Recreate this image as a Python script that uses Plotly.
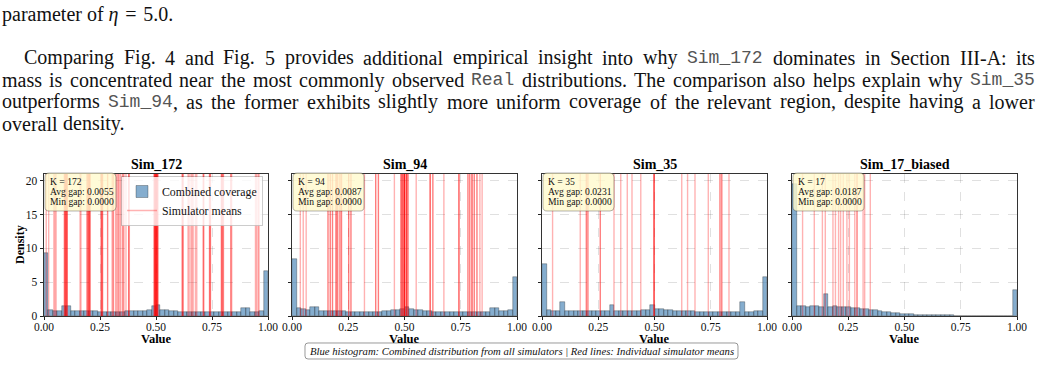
import plotly.graph_objects as go

FIG_W, FIG_H = 1042, 366

# ---------------- data ----------------
PANEL_TITLES = ["Sim_172", "Sim_94", "Sim_35", "Sim_17_biased"]
K_VALUES = [172, 94, 35, 17]
AVG_GAPS = ["0.0055", "0.0087", "0.0231", "0.0187"]
MIN_GAPS = ["0.0000", "0.0000", "0.0000", "0.0000"]

BIN_LO, BIN_HI, N_BINS = 0.0, 1.0, 50

DENSITY_SIM172 = [9.3, 0.85, 0.8, 0.8, 1.45, 1.45, 0.8, 0.8, 0.75, 0.75,
                  0.7, 0.7, 0.65, 0.65, 0.65, 0.65, 0.65, 0.65, 0.7, 0.7,
                  0.7, 0.75, 0.8, 0.85, 1.55, 1.6, 0.9, 0.85, 0.75, 0.7,
                  0.65, 0.6, 0.6, 0.55, 0.55, 0.55, 0.55, 0.55, 0.55, 0.55,
                  0.6, 0.6, 0.6, 0.6, 1.25, 1.25, 0.6, 0.65, 0.8, 6.7]
DENSITY_SIM94 = [8.5, 1.15, 1.0, 0.85, 1.4, 1.35, 0.75, 0.7, 0.7, 0.7,
                 0.7, 0.7, 0.65, 0.65, 0.65, 0.6, 0.6, 0.6, 0.65, 0.65,
                 0.7, 0.75, 0.85, 0.95, 1.1, 1.3, 1.05, 0.95, 0.85, 0.8,
                 0.7, 0.65, 0.6, 0.6, 0.6, 0.6, 0.6, 0.6, 0.6, 0.6,
                 0.6, 0.6, 0.6, 0.6, 1.25, 1.25, 0.8, 0.8, 0.95, 5.7]
DENSITY_SIM35 = [7.7, 0.9, 0.7, 0.7, 2.1, 0.7, 0.7, 0.7, 0.7, 0.75,
                 0.75, 0.75, 0.75, 0.7, 0.7, 1.6, 0.75, 0.7, 0.7, 0.75,
                 0.75, 0.8, 0.85, 0.9, 1.7, 1.0, 1.0, 0.95, 0.85, 0.8,
                 0.75, 0.7, 0.7, 0.7, 0.65, 0.65, 0.65, 0.65, 0.65, 0.65,
                 0.65, 0.65, 0.65, 0.65, 2.1, 0.55, 0.65, 0.7, 0.8, 5.8]
DENSITY_SIM17 = [19.5, 1.55, 1.45, 1.35, 1.45, 1.5, 1.4, 3.3, 1.4, 1.45,
                 1.4, 1.35, 1.3, 1.25, 1.2, 1.1, 1.0, 0.95, 0.85, 0.75,
                 0.65, 0.55, 0.5, 0.45, 0.35, 0.28, 0.25, 0.22, 0.2, 0.18,
                 0.15, 0.12, 0.1, 0.1, 0.08, 0.12, 0.07, 0.06, 0.05, 0.05,
                 0.04, 0.04, 0.04, 0.03, 0.03, 0.03, 0.03, 0.03, 0.03, 3.9]

MEANS_SIM172 = [0.010, 0.021, 0.044, 0.049, 0.054, 0.091, 0.095, 0.100, 0.104, 0.161,
                0.165, 0.192, 0.197, 0.202, 0.206, 0.255, 0.259, 0.262, 0.284, 0.304,
                0.309, 0.319, 0.324, 0.331, 0.338, 0.343, 0.352, 0.357, 0.366, 0.378,
                0.381, 0.492, 0.496, 0.500, 0.504, 0.508, 0.617, 0.621, 0.643, 0.648,
                0.656, 0.661, 0.666, 0.676, 0.682, 0.711, 0.714, 0.739, 0.743, 0.792,
                0.796, 0.801, 0.834, 0.838, 0.944, 0.949, 0.956, 0.960]
COUNTS_SIM172 = [1, 1, 1, 1, 1, 2, 3, 3, 2, 1,
                 1, 2, 3, 3, 2, 2, 3, 1, 2, 1,
                 2, 1, 1, 2, 1, 1, 2, 1, 1, 2,
                 1, 3, 5, 6, 5, 3, 2, 2, 1, 1,
                 1, 1, 1, 1, 1, 2, 1, 2, 2, 2,
                 2, 2, 2, 1, 1, 1, 1, 1]
MEANS_SIM94 = [0.037, 0.050, 0.063, 0.160, 0.170, 0.180, 0.196, 0.203, 0.213, 0.220,
               0.252, 0.262, 0.322, 0.372, 0.384, 0.455, 0.485, 0.493, 0.500, 0.508,
               0.515, 0.552, 0.614, 0.626, 0.675, 0.742, 0.782, 0.790, 0.800, 0.810,
               0.822, 0.835, 0.845]
COUNTS_SIM94 = [1, 1, 1, 2, 2, 2, 3, 2, 2, 2,
                2, 2, 1, 2, 2, 1, 4, 5, 6, 4,
                3, 1, 3, 2, 1, 3, 2, 2, 3, 2,
                2, 1, 1]
MEANS_SIM35 = [0.047, 0.170, 0.197, 0.204, 0.259, 0.320, 0.350, 0.379, 0.400, 0.439,
               0.498, 0.621, 0.647, 0.680, 0.739, 0.791, 0.799, 0.831]
COUNTS_SIM35 = [1, 1, 2, 2, 2, 1, 1, 1, 1, 1,
                5, 1, 1, 1, 1, 2, 2, 1]
MEANS_SIM17 = [0.047, 0.099, 0.135, 0.148, 0.182, 0.193, 0.207, 0.216, 0.228, 0.244,
               0.255, 0.279, 0.289, 0.316, 0.323, 0.348]
COUNTS_SIM17 = [1, 1, 1, 1, 1, 1, 1, 1, 1, 1,
                1, 1, 2, 1, 1, 1]

DENSITIES = [DENSITY_SIM172, DENSITY_SIM94, DENSITY_SIM35, DENSITY_SIM17]
MEANS = [MEANS_SIM172, MEANS_SIM94, MEANS_SIM35, MEANS_SIM17]
COUNTS = [COUNTS_SIM172, COUNTS_SIM94, COUNTS_SIM35, COUNTS_SIM17]

X_TICK_VALS = [0.0, 0.25, 0.5, 0.75, 1.0]
X_TICK_TEXT = ["0.00", "0.25", "0.50", "0.75", "1.00"]
Y_TICK_VALS = [0, 5, 10, 15, 20]
Y_TICK_TEXT = ["0", "5", "10", "15", "20"]

LEGEND_LABELS = ["Combined coverage", "Simulator means"]
X_LABEL = "Value"
Y_LABEL = "Density"
CAPTION = ("Blue histogram: Combined distribution from all simulators | "
           "Red lines: Individual simulator means")

TOP_LINE = "parameter of <i>η</i>\u2004=\u20045.0."
PARAGRAPH = [
    ("Comparing Fig. 4 and Fig. 5 provides additional empirical insight into why `Sim_172` dominates in Section III-A: its", True),
    ("mass is concentrated near the most commonly observed `Real` distributions. The comparison also helps explain why `Sim_35`", True),
    ("outperforms `Sim_94`, as the former exhibits slightly more uniform coverage of the relevant region, despite having a lower", True),
    ("overall density.", False),
]

# ---------------- layout constants (pixels) ----------------
PANEL_X = [(44, 268), (292, 517), (542, 767), (792, 1017)]
PLOT_TOP, PLOT_BOTTOM = 174, 316
Y_MAX = 21.0
SERIF = "Liberation Serif"
MONO = "Liberation Mono"
BODY_SIZE = 20
MONO_SIZE = 18
PARA_X0 = [23, 1, 1, 1]
PARA_Y = [58, 80, 102, 124]
PARA_X1 = 1034
TOP_LINE_Y = 14
INFO_BOX = (1, 173, 72, 211)        # relative x offsets / absolute y (px)
INFO_LINE_Y = [181, 191, 201]


def px_x(px):
    return px / FIG_W


def px_y(py):
    return 1 - py / FIG_H


def rounded_rect_path(x0, y0, x1, y1, r):
    """SVG path in paper coordinates for a rounded rectangle given in pixels."""
    def P(x, y):
        return "%.6f,%.6f" % (px_x(x), px_y(y))
    return ("M " + P(x0 + r, y0) + " L " + P(x1 - r, y0) +
            " Q " + P(x1, y0) + " " + P(x1, y0 + r) +
            " L " + P(x1, y1 - r) + " Q " + P(x1, y1) + " " + P(x1 - r, y1) +
            " L " + P(x0 + r, y1) + " Q " + P(x0, y1) + " " + P(x0, y1 - r) +
            " L " + P(x0, y0 + r) + " Q " + P(x0, y0) + " " + P(x0 + r, y0) + " Z")


# Times metrics (1/1000 em) for justification
_TIMES = {' ': 250, '!': 333, '"': 408, '#': 500, '$': 500, '%': 833, '&': 778, "'": 333,
          '(': 333, ')': 333, '*': 500, '+': 564, ',': 250, '-': 333, '.': 250, '/': 278,
          ':': 278, ';': 278, '<': 564, '=': 564, '>': 564, '?': 444, '@': 921, '[': 333,
          '\\': 278, ']': 333, '^': 469, '_': 500, '{': 480, '|': 200, '}': 480, '~': 541}
for _c in '0123456789':
    _TIMES[_c] = 500
_TIMES.update(dict(zip('ABCDEFGHIJKLMNOPQRSTUVWXYZ',
                       [722, 667, 667, 722, 611, 556, 722, 722, 333, 389, 722, 611, 889,
                        722, 722, 556, 722, 667, 556, 611, 722, 722, 944, 722, 722, 611])))
_TIMES.update(dict(zip('abcdefghijklmnopqrstuvwxyz',
                       [444, 500, 444, 500, 444, 333, 500, 500, 278, 278, 500, 278, 778,
                        500, 500, 500, 500, 333, 389, 278, 500, 500, 722, 500, 500, 444])))


def seg_width(text, mono):
    if mono:
        return len(text) * 0.6 * MONO_SIZE
    return sum(_TIMES.get(c, 500) for c in text) / 1000.0 * BODY_SIZE


fig = go.Figure()
annotations = []
shapes = []
layout_axes = {}

bw = (BIN_HI - BIN_LO) / N_BINS

for p in range(4):
    suffix = "" if p == 0 else str(p + 1)
    xa, ya = "x" + suffix, "y" + suffix
    dens = DENSITIES[p]
    centers = [BIN_LO + bw * (i + 0.5) for i in range(len(dens))]
    fig.add_trace(go.Bar(
        x=centers, y=dens, width=[bw] * len(dens),
        marker=dict(color="rgba(70,130,180,0.66)",
                    line=dict(color="rgba(0,0,0,0.55)", width=0.5)),
        name=LEGEND_LABELS[0], showlegend=(p == 0), legendrank=1,
        xaxis=xa, yaxis=ya, hoverinfo="skip"))
    if p == 0:
        fig.add_trace(go.Scatter(
            x=[None], y=[None], mode="lines",
            line=dict(color="rgba(255,0,0,0.3)", width=1.5),
            name=LEGEND_LABELS[1], showlegend=True, legendrank=2,
            xaxis=xa, yaxis=ya))
    # group vertical mean lines by overlap count
    groups = {}
    for m, c in zip(MEANS[p], COUNTS[p]):
        groups.setdefault(c, []).append(m)
    for c, ms in sorted(groups.items()):
        xs, ys = [], []
        for m in ms:
            xs += [m, m, None]
            ys += [0, Y_MAX, None]
        alpha = 1 - 0.7 ** c
        fig.add_trace(go.Scatter(
            x=xs, y=ys, mode="lines",
            line=dict(color="rgba(255,0,0,%.3f)" % alpha, width=1.4),
            showlegend=False, xaxis=xa, yaxis=ya, hoverinfo="skip"))

    x0, x1 = PANEL_X[p]
    axis_common = dict(
        ticks="outside", ticklen=3.5, tickwidth=0.8, tickcolor="#222",
        showline=True, mirror=True, linecolor="#333", linewidth=0.8,
        showgrid=True, gridcolor="rgba(0,0,0,0.12)", griddash="dash", gridwidth=0.8,
        zeroline=False, fixedrange=True, automargin=False,
        tickfont=dict(family=SERIF, size=11.5, color="#111"),
    )
    layout_axes["xaxis" + suffix] = dict(
        axis_common, domain=[px_x(x0), px_x(x1)], range=[0, 1], anchor=ya,
        tickmode="array", tickvals=X_TICK_VALS, ticktext=X_TICK_TEXT,
        ticklabelstandoff=-3)
    layout_axes["yaxis" + suffix] = dict(
        axis_common, domain=[px_y(PLOT_BOTTOM), px_y(PLOT_TOP)], range=[0, Y_MAX],
        anchor=xa, tickmode="array", tickvals=Y_TICK_VALS, ticktext=Y_TICK_TEXT,
        showticklabels=(p == 0))

    cx = (x0 + x1) / 2
    annotations.append(dict(
        text="<b>%s</b>" % PANEL_TITLES[p], x=px_x(cx), y=px_y(164),
        xref="paper", yref="paper", xanchor="center", yanchor="middle",
        showarrow=False, font=dict(family=SERIF, size=14, color="#000")))
    annotations.append(dict(
        text="<b>%s</b>" % X_LABEL, x=px_x(cx), y=px_y(339),
        xref="paper", yref="paper", xanchor="center", yanchor="middle",
        showarrow=False, font=dict(family=SERIF, size=12.5, color="#000")))
    # info box (rounded, semi-transparent) + three text lines
    bx0, by0, bx1, by1 = INFO_BOX
    shapes.append(dict(
        type="path", xref="paper", yref="paper", layer="above",
        path=rounded_rect_path(x0 + bx0, by0, x0 + bx1, by1, 4),
        fillcolor="rgba(255,250,205,0.8)", line=dict(color="rgba(0,0,0,0.3)", width=1)))
    info_lines = ["K = %d" % K_VALUES[p], "Avg gap: %s" % AVG_GAPS[p],
                  "Min gap: %s" % MIN_GAPS[p]]
    for t, ly in zip(info_lines, INFO_LINE_Y):
        annotations.append(dict(
            text=t, x=px_x(x0 + 5), y=px_y(ly), xref="paper", yref="paper",
            xanchor="left", yanchor="middle", showarrow=False, borderpad=0,
            font=dict(family=SERIF, size=9.6, color="#111")))

annotations.append(dict(
    text="<b>%s</b>" % Y_LABEL, x=px_x(20), y=px_y(245), xref="paper", yref="paper",
    xanchor="center", yanchor="middle", textangle=-90, showarrow=False,
    font=dict(family=SERIF, size=12, color="#000")))

# caption box
shapes.append(dict(
    type="path", xref="paper", yref="paper", layer="above",
    path=rounded_rect_path(305, 343, 738, 359, 3),
    fillcolor="white", line=dict(color="rgba(0,0,0,0.4)", width=1)))
annotations.append(dict(
    text="<i>%s</i>" % CAPTION, x=px_x(521.5), y=px_y(351), xref="paper", yref="paper",
    xanchor="center", yanchor="middle", showarrow=False,
    font=dict(family=SERIF, size=10.7, color="#111")))

# top text
annotations.append(dict(
    text=TOP_LINE, x=px_x(1), y=px_y(TOP_LINE_Y), xref="paper", yref="paper",
    xanchor="left", yanchor="middle", showarrow=False, borderpad=0,
    font=dict(family=SERIF, size=BODY_SIZE, color="#111")))

for li, (line, justify) in enumerate(PARAGRAPH):
    words = []
    for w in line.split(" "):
        parts = w.split("`")
        segs = [(t, i % 2 == 1) for i, t in enumerate(parts) if t]
        words.append(segs)
    widths = [sum(seg_width(t, mono) for t, mono in segs) for segs in words]
    x_start = PARA_X0[li]
    if justify and len(words) > 1:
        gap = (PARA_X1 - x_start - sum(widths)) / (len(words) - 1)
    else:
        gap = 0.25 * BODY_SIZE
    cur = x_start
    for segs, wd in zip(words, widths):
        sx = cur
        for t, mono in segs:
            annotations.append(dict(
                text=t, x=px_x(sx), y=px_y(PARA_Y[li]), xref="paper", yref="paper",
                xanchor="left", yanchor="middle", showarrow=False, borderpad=0,
                font=dict(family=MONO if mono else SERIF,
                          size=MONO_SIZE if mono else BODY_SIZE,
                          color="#555" if mono else "#111")))
            sx += seg_width(t, mono)
        cur += wd + gap

fig.update_layout(
    width=FIG_W, height=FIG_H, margin=dict(l=0, r=0, t=0, b=0, autoexpand=False),
    paper_bgcolor="white", plot_bgcolor="white",
    barmode="overlay", bargap=0,
    annotations=annotations, shapes=shapes,
    legend=dict(x=px_x(263), xanchor="right", y=px_y(176), yanchor="top",
                bgcolor="rgba(255,255,255,0.8)", bordercolor="rgba(0,0,0,0.2)",
                borderwidth=1, font=dict(family=SERIF, size=11.8, color="#111"),
                itemwidth=30, tracegroupgap=0, traceorder="normal"),
    **layout_axes,
)

fig.write_html("out.html")
